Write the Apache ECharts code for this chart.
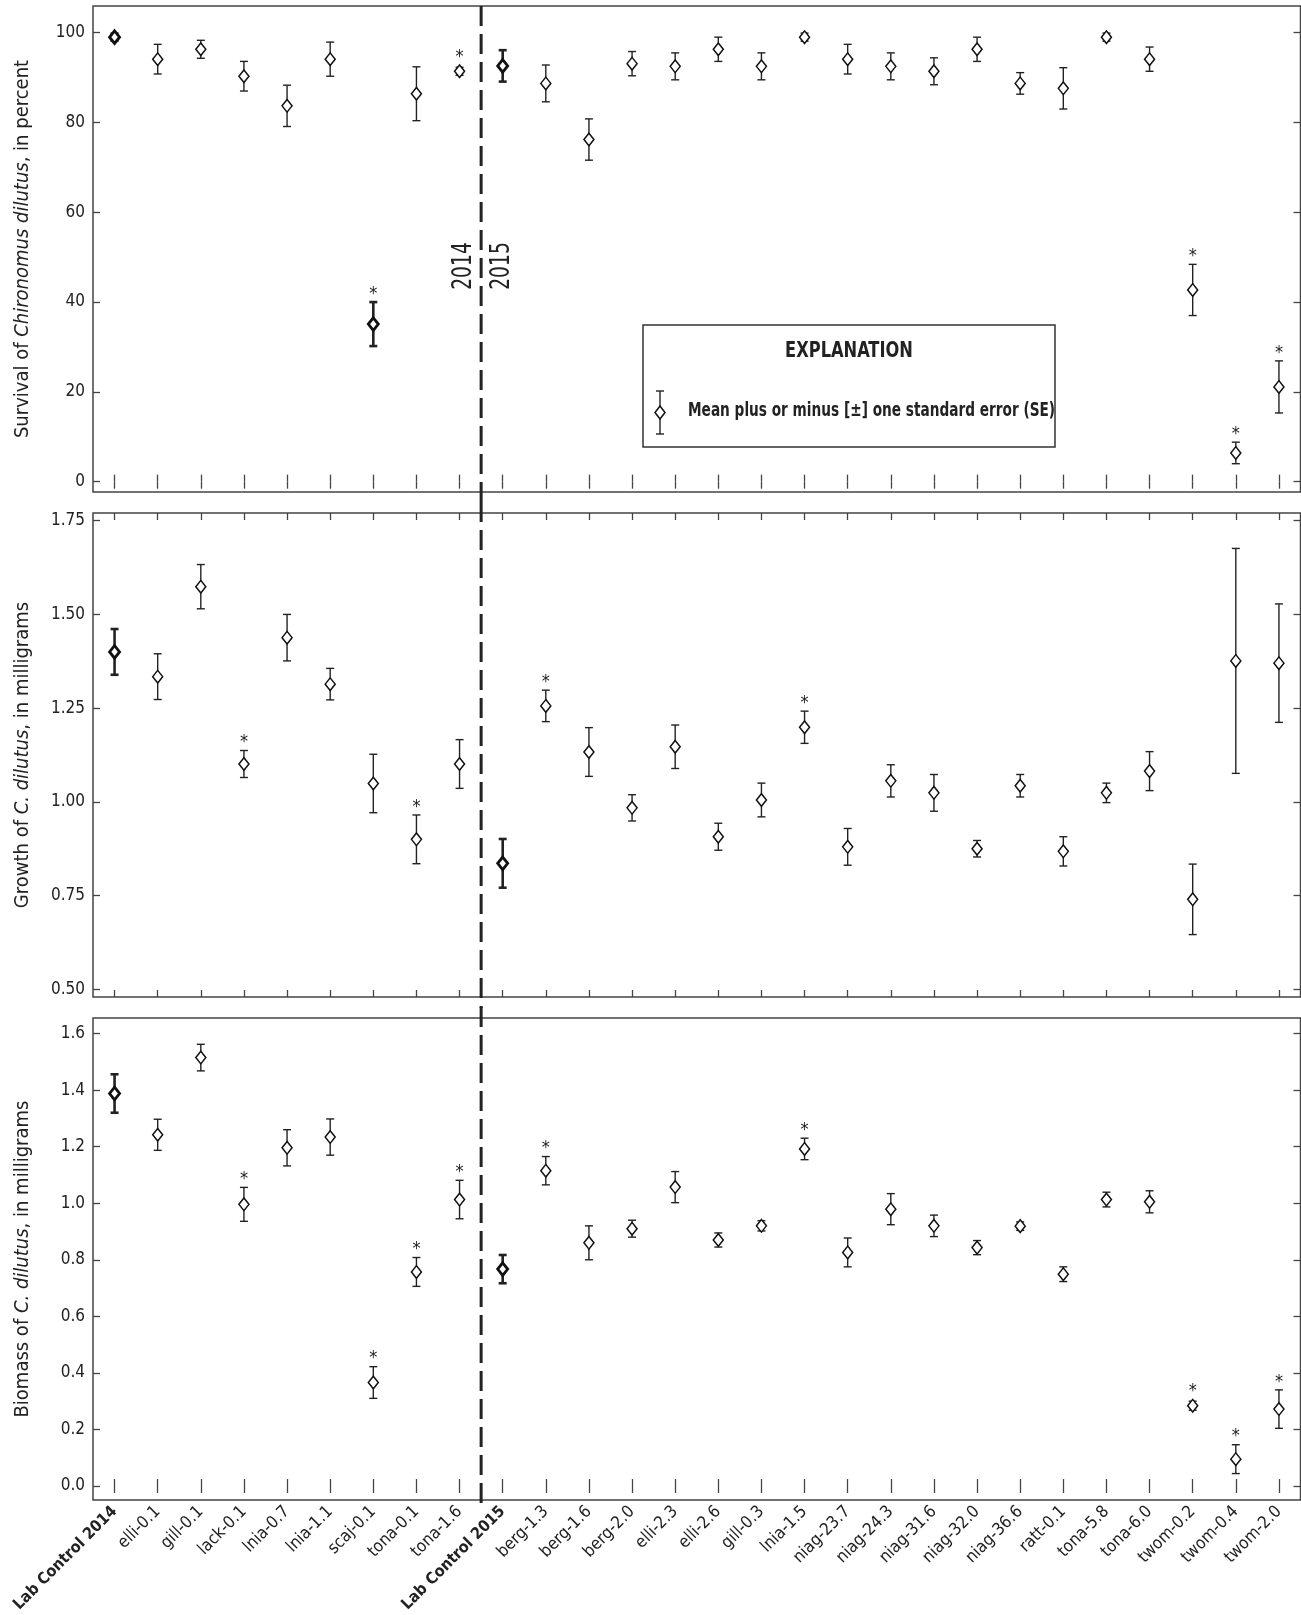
<!DOCTYPE html>
<html>
<head>
<meta charset="utf-8">
<script src="https://cdn.jsdelivr.net/npm/echarts@6/dist/echarts.min.js"></script>
<style>
html,body{margin:0;padding:0;background:#fff;}
#chart{width:1301px;height:1615px;}
</style>
</head>
<body>
<div id="chart"></div>
<script>
// ---------- DATA ----------
var categories = ['Lab Control 2014','elli-0.1','gill-0.1','lack-0.1','lnia-0.7','lnia-1.1','scaj-0.1','tona-0.1','tona-1.6',
  'Lab Control 2015','berg-1.3','berg-1.6','berg-2.0','elli-2.3','elli-2.6','gill-0.3','lnia-1.5','niag-23.7','niag-24.3',
  'niag-31.6','niag-32.0','niag-36.6','ratt-0.1','tona-5.8','tona-6.0','twom-0.2','twom-0.4','twom-2.0'];

var survivalMean = [99.0, 94.1, 96.3, 90.3, 83.7, 94.1, 35.1, 86.4, 91.4, 92.6, 88.7, 76.2, 93.1, 92.5, 96.3, 92.5, 99.0, 94.1, 92.5, 91.4, 96.3, 88.7, 87.6, 99.0, 94.1, 42.7, 6.4, 21.1];
var survivalSE   = [0.8, 3.3, 2.0, 3.3, 4.6, 3.8, 4.9, 6.0, 0.9, 3.5, 4.1, 4.6, 2.7, 3.0, 2.7, 3.0, 0.9, 3.3, 3.0, 3.0, 2.7, 2.4, 4.6, 0.9, 2.7, 5.7, 2.4, 5.8];
var survivalStars = [6, 8, 25, 26, 27];
var survivalBold  = [0, 6, 9];

var growthMean = [1.400, 1.334, 1.574, 1.101, 1.438, 1.314, 1.049, 0.900, 1.101, 0.836, 1.256, 1.133, 0.984, 1.147, 0.907, 1.005, 1.199, 0.880, 1.056, 1.024, 0.875, 1.043, 0.868, 1.024, 1.082, 0.740, 1.376, 1.370];
var growthSE   = [0.061, 0.061, 0.059, 0.036, 0.062, 0.042, 0.078, 0.065, 0.065, 0.065, 0.042, 0.065, 0.035, 0.058, 0.036, 0.045, 0.043, 0.049, 0.043, 0.049, 0.022, 0.030, 0.039, 0.026, 0.052, 0.094, 0.300, 0.158];
var growthStars = [3, 7, 10, 16];
var growthBold  = [0, 9];

var biomassMean = [1.388, 1.242, 1.515, 0.996, 1.196, 1.234, 0.366, 0.757, 1.013, 0.767, 1.115, 0.860, 0.910, 1.057, 0.870, 0.920, 1.192, 0.826, 0.979, 0.920, 0.843, 0.919, 0.749, 1.013, 1.005, 0.284, 0.095, 0.272];
var biomassSE   = [0.068, 0.055, 0.047, 0.060, 0.064, 0.064, 0.056, 0.051, 0.068, 0.050, 0.050, 0.060, 0.030, 0.055, 0.025, 0.018, 0.038, 0.051, 0.055, 0.038, 0.025, 0.015, 0.026, 0.026, 0.039, 0.016, 0.051, 0.068];
var biomassStars = [3, 6, 7, 8, 10, 16, 25, 26, 27];
var biomassBold  = [0, 9];

var survivalTicks = [0, 20, 40, 60, 80, 100];
var growthTicks   = [0.50, 0.75, 1.00, 1.25, 1.50, 1.75];
var biomassTicks  = [0.0, 0.2, 0.4, 0.6, 0.8, 1.0, 1.2, 1.4, 1.6];

var yearLabels = ['2014', '2015'];
var legendTitle = 'EXPLANATION';
var legendText = 'Mean plus or minus [\u00b1] one standard error (SE)';

// ---------- BUILD ----------
var FONT = "'Liberation Sans Narrow','Arial Narrow','DejaVu Sans Condensed',sans-serif";
var INK = '#222';
var FRAME = '#444';

function buildData(mean, se, stars, bold) {
  return mean.map(function (m, i) {
    return [i, m - se[i], m + se[i], m, stars.indexOf(i) >= 0 ? 1 : 0, bold.indexOf(i) >= 0 ? 1 : 0];
  });
}

function renderErr(params, api) {
  var x = api.value(0), lo = api.value(1), hi = api.value(2), m = api.value(3);
  var star = api.value(4), bold = api.value(5);
  var pLo = api.coord([x, lo]), pHi = api.coord([x, hi]), pM = api.coord([x, m]);
  var lw = bold ? 2.6 : 1.4;
  var cw = 4;
  var w = 5, h = 6.3;
  var children = [
    {type: 'line', shape: {x1: pHi[0], y1: pHi[1], x2: pLo[0], y2: pLo[1]}, style: {stroke: INK, lineWidth: lw}},
    {type: 'line', shape: {x1: pHi[0] - cw, y1: pHi[1], x2: pHi[0] + cw, y2: pHi[1]}, style: {stroke: INK, lineWidth: lw}},
    {type: 'line', shape: {x1: pLo[0] - cw, y1: pLo[1], x2: pLo[0] + cw, y2: pLo[1]}, style: {stroke: INK, lineWidth: lw}},
    {type: 'polygon', shape: {points: [[pM[0], pM[1] - h], [pM[0] + w, pM[1]], [pM[0], pM[1] + h], [pM[0] - w, pM[1]]]},
      style: {fill: '#fff', stroke: '#111', lineWidth: bold ? 2.8 : 1.5}}
  ];
  if (star) {
    children.push({type: 'text', x: pHi[0], y: Math.min(pHi[1], pM[1] - h) - 8,
      style: {text: '*', fill: INK, font: '18px ' + FONT, align: 'center', verticalAlign: 'middle'}});
  }
  return {type: 'group', children: children};
}

function renderDivider(params, api) {
  var a = api.coord([8, 0]), b = api.coord([9, 0]);
  var x = (a[0] + b[0]) / 2;
  var cs = params.coordSys;
  var ext = [[0, 11], [11, 11], [11, 7]][params.seriesIndex === 1 ? 0 : (params.seriesIndex === 3 ? 1 : 2)];
  return {type: 'line', silent: true,
    shape: {x1: x, y1: cs.y - ext[0], x2: x, y2: cs.y + cs.height + ext[1]},
    style: {stroke: '#222', lineWidth: 3, lineDash: [20, 8]}};
}

var grids = [
  {left: 93, top: 6, width: 1207.5, height: 486},
  {left: 93, top: 513, width: 1207.5, height: 484},
  {left: 93, top: 1018, width: 1207.5, height: 486.5}
];
grids.forEach(function (g) { g.show = true; g.borderColor = FRAME; g.borderWidth = 1.5; g.containLabel = false; });

var yDefs = [
  {min: -2.3, max: 105.94, ticks: survivalTicks, dec: 0,
    name: '{n|Survival of }{i|Chironomus dilutus}{n|, in percent}'},
  {min: 0.4795, max: 1.7705, ticks: growthTicks, dec: 2,
    name: '{n|Growth of }{i|C. dilutus}{n|, in milligrams}'},
  {min: -0.0498, max: 1.655, ticks: biomassTicks, dec: 1,
    name: '{n|Biomass of }{i|C. dilutus}{n|, in milligrams}'}
];

var xAxes = [], yAxes = [];
[0, 1, 2].forEach(function (gi) {
  ['bottom', 'top'].forEach(function (pos) {
    xAxes.push({
      type: 'category', gridIndex: gi, position: pos, data: categories, boundaryGap: true,
      axisLine: {show: false},
      axisTick: {show: true, inside: true, length: 7, alignWithLabel: true, interval: 0, lineStyle: {color: FRAME, width: 1.3}},
      axisLabel: {show: gi === 2 && pos === 'bottom', interval: 0, rotate: 45, margin: 9,
        fontFamily: FONT, fontSize: 17, color: INK,
        formatter: function (v) { return v.indexOf('Lab Control') === 0 ? '{b|' + v + '}' : v; },
        rich: {b: {fontFamily: FONT, fontSize: 16, fontWeight: 'bold', color: INK}}},
      splitLine: {show: false}
    });
  });
  var d = yDefs[gi];
  ['left', 'right'].forEach(function (pos) {
    yAxes.push({
      type: 'value', gridIndex: gi, position: pos, min: d.min, max: d.max,
      name: pos === 'left' ? d.name : '', nameLocation: 'middle', nameGap: 60,
      nameTextStyle: {rich: {
        n: {fontFamily: FONT, fontSize: 20, color: INK},
        i: {fontFamily: FONT, fontSize: 20, color: INK, fontStyle: 'italic'}}},
      axisLine: {show: false},
      splitLine: {show: false},
      axisTick: {show: true, inside: true, length: 7, customValues: d.ticks, lineStyle: {color: FRAME, width: 1.3}},
      axisLabel: {show: pos === 'left', customValues: d.ticks, margin: 8, fontFamily: FONT, fontSize: 17, color: INK,
        formatter: (function (dec) { return function (v) { return Number(v).toFixed(dec); }; })(d.dec)}
    });
  });
});

var panelData = [
  buildData(survivalMean, survivalSE, survivalStars, survivalBold),
  buildData(growthMean, growthSE, growthStars, growthBold),
  buildData(biomassMean, biomassSE, biomassStars, biomassBold)
];

var series = [];
[0, 1, 2].forEach(function (gi) {
  series.push({type: 'custom', xAxisIndex: gi * 2, yAxisIndex: gi * 2, data: panelData[gi],
    encode: {x: 0, y: [1, 2, 3]}, renderItem: renderErr, clip: false, z: 5});
  series.push({type: 'custom', xAxisIndex: gi * 2, yAxisIndex: gi * 2, data: [[0, 0]],
    encode: {x: 0, y: 1}, renderItem: renderDivider, clip: false, z: 3, silent: true});
});

var chart = echarts.init(document.getElementById('chart'), null, {renderer: 'canvas'});
chart.setOption({
  animation: false,
  backgroundColor: '#fff',
  grid: grids,
  xAxis: xAxes,
  yAxis: yAxes,
  series: series,
  graphic: [
    {type: 'text', x: 464, y: 266, rotation: Math.PI / 2, scaleX: 0.8,
      style: {text: yearLabels[0], font: '26px ' + FONT, fill: INK, align: 'center', verticalAlign: 'middle'}},
    {type: 'text', x: 502, y: 266, rotation: Math.PI / 2, scaleX: 0.8,
      style: {text: yearLabels[1], font: '26px ' + FONT, fill: INK, align: 'center', verticalAlign: 'middle'}},
    {type: 'group', children: [
      {type: 'rect', shape: {x: 643, y: 325, width: 412, height: 122}, style: {fill: '#fff', stroke: '#333', lineWidth: 1.5}},
      {type: 'text', x: 849, y: 352, scaleX: 0.86, style: {text: legendTitle, font: 'bold 21px ' + FONT, fill: INK, align: 'center', verticalAlign: 'middle'}},
      {type: 'line', shape: {x1: 660, y1: 391, x2: 660, y2: 434}, style: {stroke: INK, lineWidth: 1.4}},
      {type: 'line', shape: {x1: 656, y1: 391, x2: 664, y2: 391}, style: {stroke: INK, lineWidth: 1.4}},
      {type: 'line', shape: {x1: 656, y1: 434, x2: 664, y2: 434}, style: {stroke: INK, lineWidth: 1.4}},
      {type: 'polygon', shape: {points: [[660, 406], [665, 412.5], [660, 419], [655, 412.5]]}, style: {fill: '#fff', stroke: '#111', lineWidth: 1.5}},
      {type: 'text', x: 688, y: 411, scaleX: 0.8, style: {text: legendText, font: 'bold 19px ' + FONT, fill: INK, align: 'left', verticalAlign: 'middle'}}
    ]}
  ]
});
</script>
</body>
</html>
